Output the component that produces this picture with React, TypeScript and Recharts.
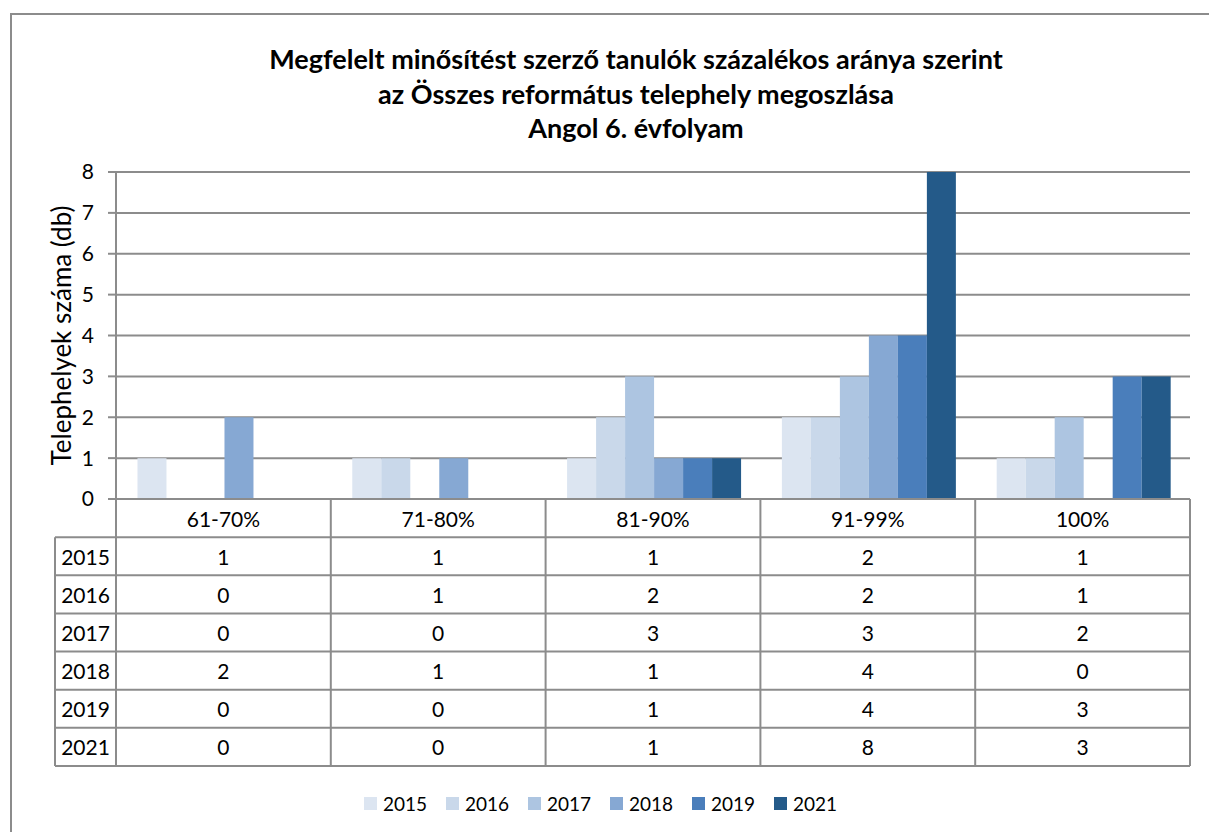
import React from 'react'
import { BarChart, Bar, XAxis, YAxis, CartesianGrid, Legend } from 'recharts'

const CATEGORIES = ['61-70%', '71-80%', '81-90%', '91-99%', '100%']
const YEARS = ['2015', '2016', '2017', '2018', '2019', '2021']
const V2015 = [1, 1, 1, 2, 1]
const V2016 = [0, 1, 2, 2, 1]
const V2017 = [0, 0, 3, 3, 2]
const V2018 = [2, 1, 1, 4, 0]
const V2019 = [0, 0, 1, 4, 3]
const V2021 = [0, 0, 1, 8, 3]
const Y_TICKS = [0, 1, 2, 3, 4, 5, 6, 7, 8]
const TITLE_LINES = [
  'Megfelelt minősítést szerző tanulók százalékos aránya szerint',
  'az Összes református telephely megoszlása',
  'Angol 6. évfolyam',
]
const Y_LABEL = 'Telephelyek száma (db)'

const SERIES = [V2015, V2016, V2017, V2018, V2019, V2021]
const COLORS = ['#DCE5F1', '#C9D8EA', '#ADC5E1', '#86A8D3', '#4A7EBB', '#245A89']

const FONT = 'Lato, "Noto Sans", sans-serif'
const LINE = '#8c8c8c'

// layout
const W = 1209
const H = 832
const PLOT_LEFT = 116
const PLOT_RIGHT = 1190
const PLOT_TOP = 172
const PLOT_BOTTOM = 499
const TABLE_BOTTOM = 766
const TABLE_LEFT = 55
const Y_AXIS_W = 60
const ROW = (TABLE_BOTTOM - PLOT_BOTTOM) / (YEARS.length + 1)
const BAND = (PLOT_RIGHT - PLOT_LEFT) / CATEGORIES.length

const data = CATEGORIES.map((cat, i) => {
  const row: Record<string, string | number> = { cat }
  YEARS.forEach((y, s) => {
    row['y' + y] = SERIES[s][i]
  })
  return row
})

const textProps = { fontFamily: FONT, fontSize: 21, fill: '#000', textAnchor: 'middle' as const, dominantBaseline: 'central' as const }

function TableTick(props: any) {
  const { x, payload } = props
  const i = payload.index
  const half = BAND / 2
  const extra: React.ReactNode[] = []
  if (i === 0) {
    // row lines, left borders and year labels
    for (let r = 1; r <= YEARS.length + 1; r++) {
      const yy = PLOT_BOTTOM + ROW * r
      extra.push(<line key={'h' + r} x1={TABLE_LEFT} x2={PLOT_RIGHT} y1={yy} y2={yy} stroke={LINE} strokeWidth={2} />)
    }
    extra.push(<line key="vl0" x1={x - half} x2={x - half} y1={PLOT_BOTTOM} y2={TABLE_BOTTOM} stroke={LINE} strokeWidth={2} />)
    extra.push(<line key="vl1" x1={TABLE_LEFT} x2={TABLE_LEFT} y1={PLOT_BOTTOM + ROW} y2={TABLE_BOTTOM} stroke={LINE} strokeWidth={2} />)
    YEARS.forEach((yr, r) => {
      extra.push(
        <text key={'yr' + r} x={(TABLE_LEFT + x - half) / 2} y={PLOT_BOTTOM + ROW * (r + 1) + ROW / 2} {...textProps}>
          {yr}
        </text>
      )
    })
  }
  return (
    <g>
      {extra}
      <line x1={x + half} x2={x + half} y1={PLOT_BOTTOM} y2={TABLE_BOTTOM} stroke={LINE} strokeWidth={2} />
      <text x={x} y={PLOT_BOTTOM + ROW / 2} {...textProps}>
        {payload.value}
      </text>
      {SERIES.map((vals, r) => (
        <text key={r} x={x} y={PLOT_BOTTOM + ROW * (r + 1) + ROW / 2} {...textProps}>
          {vals[i]}
        </text>
      ))}
    </g>
  )
}

function LegendContent(props: any) {
  const payload = props.payload || []
  return (
    <div style={{ display: 'flex', fontFamily: FONT, fontSize: 19, color: '#000' }}>
      {payload.map((p: any) => (
        <div key={p.value} style={{ width: 82, display: 'flex', alignItems: 'center' }}>
          <span style={{ width: 13, height: 13, background: p.color, display: 'inline-block', marginRight: 6 }} />
          <span>{p.value}</span>
        </div>
      ))}
    </div>
  )
}

export default function App() {
  return (
    <div style={{ position: 'absolute', left: 0, top: 0, width: W, height: H, overflow: 'hidden', background: '#fff' }}>
      <div
        style={{
          position: 'absolute',
          left: 10,
          top: 13,
          width: W + 20,
          height: H + 20,
          border: '2px solid #8c8c8c',
          boxSizing: 'border-box',
        }}
      />
      <div
        style={{
          position: 'absolute',
          left: 136,
          top: 42,
          width: 1000,
          textAlign: 'center',
          fontFamily: FONT,
          fontWeight: 700,
          fontSize: 27,
          lineHeight: '34.5px',
          color: '#000',
        }}
      >
        {TITLE_LINES.map((t) => (
          <div key={t}>{t}</div>
        ))}
      </div>
      <div style={{ position: 'absolute', left: 0, top: 0 }}>
        <BarChart
          width={W}
          height={H}
          data={data}
          margin={{ top: PLOT_TOP, right: W - PLOT_RIGHT, bottom: H - TABLE_BOTTOM, left: PLOT_LEFT - Y_AXIS_W }}
          barCategoryGap="10%"
          barGap={0}
        >
          <CartesianGrid vertical={false} stroke={LINE} strokeWidth={2} />
          <XAxis
            dataKey="cat"
            height={TABLE_BOTTOM - PLOT_BOTTOM}
            interval={0}
            tickLine={false}
            axisLine={{ stroke: LINE, strokeWidth: 2 }}
            tick={<TableTick />}
          />
          <YAxis
            width={Y_AXIS_W}
            domain={[0, 8]}
            ticks={Y_TICKS}
            interval={0}
            tickSize={8}
            tickMargin={14}
            axisLine={{ stroke: LINE, strokeWidth: 2 }}
            tickLine={{ stroke: LINE, strokeWidth: 2 }}
            tick={{ fontFamily: FONT, fontSize: 21, fill: '#000' }}
            label={{
              value: Y_LABEL,
              angle: -90,
              position: 'insideLeft',
              offset: 6,
              fontSize: 26,
              fontFamily: FONT,
              fill: '#000',
              style: { textAnchor: 'middle', fontSize: 26, fontFamily: FONT },
            }}
          />
          <Legend
            verticalAlign="middle"
            align="center"
            layout="horizontal"
            content={<LegendContent />}
            wrapperStyle={{ position: 'absolute', top: 792, left: 364, width: 520, height: 22 }}
          />
          {YEARS.map((y, s) => (
            <Bar key={y} dataKey={'y' + y} name={y} fill={COLORS[s]} isAnimationActive={false} />
          ))}
        </BarChart>
      </div>
    </div>
  )
}
